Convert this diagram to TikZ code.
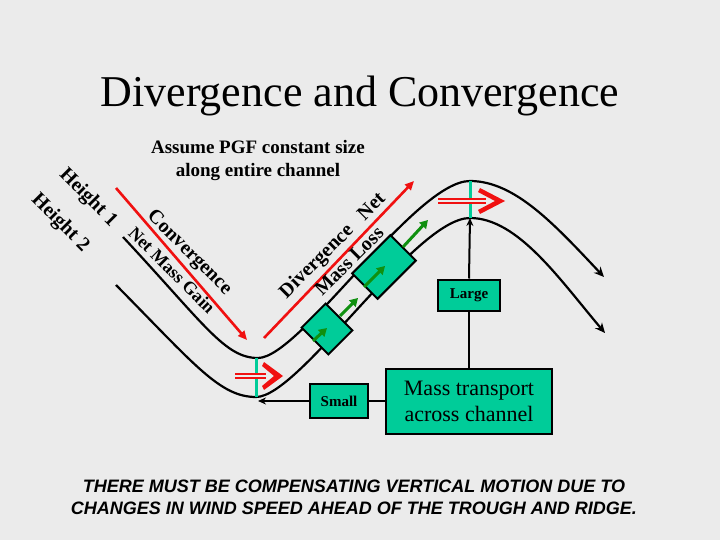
\documentclass[tikz,border=0pt]{standalone}
\usepackage{fontspec}
\setmainfont{Liberation Serif}
\newfontfamily\arialf{Liberation Sans}
\usetikzlibrary{arrows.meta}
\definecolor{bg}{HTML}{EBEBEB}
\definecolor{teal}{HTML}{00CC99}
\definecolor{rd}{HTML}{F01010}
\definecolor{gr}{HTML}{109010}
\begin{document}
\begin{tikzpicture}[x=1pt,y=-1pt,
  chan/.style={line width=2.2pt},
  redar/.style={rd,line width=2.6pt,-{Triangle[length=9pt,width=8pt]}},
  grar/.style={gr,line width=3pt,-{Triangle[length=8pt,width=9pt]}},
  box/.style={draw,line width=2pt,fill=teal},
  lbl/.style={font=\bfseries\fontsize{20}{20}\selectfont,inner sep=0pt},
  dbl/.style={rd,double=bg,double distance=2pt,line width=2.2pt}]
\useasboundingbox[fill=bg] (0,0) rectangle (720,540);
\node (title) at (360,96) {\fontsize{44}{44}\selectfont Divergence and Convergence};
\node[align=center,font=\bfseries\fontsize{19}{23}\selectfont] (sub) at (258,161) {Assume PGF constant size\\along entire channel};
% channel
\draw[chan,-{Stealth[length=10pt,width=9pt]}] (123,237) .. controls (205,325) and (225,358) .. (258,358)
  .. controls (300,358) and (415,181) .. (470,181) .. controls (515,181) and (555,225) .. (604,277);
\draw[chan,-{Stealth[length=10pt,width=9pt]}] (116,285) .. controls (195,365) and (220,397) .. (256,397)
  .. controls (300,397) and (415,218) .. (470,218) .. controls (518,218) and (560,280) .. (605,333);
% boxes on slope
\draw[box] (352.4,330.4) -- (325.6,303.6) -- (301.6,327.6) -- (328.4,354.4) -- cycle;
\draw[box] (415.8,260.6) -- (390.4,235.2) -- (352.2,273.4) -- (377.6,298.8) -- cycle;
\coordinate (g1a) at (313,341); \coordinate (g1b) at (327,328);
\coordinate (g2a) at (340,316); \coordinate (g2b) at (358,298);
\coordinate (g3a) at (364,287); \coordinate (g3b) at (385,266);
\coordinate (g4a) at (403,247); \coordinate (g4b) at (428,220);
\draw[grar] (g1a) -- (g1b); \draw[grar] (g2a) -- (g2b);
\draw[grar] (g3a) -- (g3b); \draw[grar] (g4a) -- (g4b);
% teal bars
\coordinate (t1) at (256,358); \coordinate (t2) at (256,397);
\coordinate (c1) at (470,181); \coordinate (c2) at (470,218);
\draw[teal,line width=3pt] (t1) -- (t2);
\draw[teal,line width=3pt] (c1) -- (c2);
% red double arrows
\coordinate (d1a) at (235,376); \coordinate (d1b) at (266,376);
\draw[dbl] (d1a) -- (d1b);
\fill[rd] (264,362) -- (283,376) -- (264,390) -- (262,386) -- (274,376) -- (262,366) -- cycle;
\coordinate (d2a) at (438,201); \coordinate (d2b) at (486,201);
\draw[dbl] (d2a) -- (d2b);
\fill[rd] (480,188) -- (505,201) -- (480,214) -- (478,210) -- (495,201) -- (478,192) -- cycle;
% red straight arrows
\coordinate (r1a) at (116,188); \coordinate (r1b) at (247,340);
\coordinate (r2a) at (264,338); \coordinate (r2b) at (414,181);
\draw[redar] (r1a) -- (r1b);
\draw[redar] (r2a) -- (r2b);
% labels
\node[lbl,rotate=-45] (h1) at (88,198) {Height 1};
\node[lbl,rotate=-45] (h2) at (60,223) {Height 2};
\node[lbl,rotate=-45] (conv) at (189,253) {Convergence};
\node[lbl,rotate=-45,font=\bfseries\fontsize{18}{18}\selectfont] (nmg) at (172,270) {Net Mass Gain};
\node[lbl,rotate=45] (div) at (317,262) {Divergence};
\node[lbl,rotate=45] (net) at (371,206) {Net};
\node[lbl,rotate=45] (ml) at (349,261) {Mass Loss};
% boxes
\node[box,font=\bfseries\fontsize{15}{15}\selectfont,minimum width=58pt,minimum height=34pt,inner sep=0pt] (small) at (339,401) {Small};
\node[box,font=\bfseries\fontsize{15}{15}\selectfont,minimum width=62pt,minimum height=31pt,inner sep=0pt] (large) at (469,295) {Large};
\node[box,align=center,font=\fontsize{22}{26}\selectfont,minimum width=166pt,minimum height=65pt,inner sep=0pt] (mass) at (469,401) {Mass transport\\across channel};
\coordinate (tr) at (258,401);
\draw[line width=2pt,-{Stealth[length=8pt,width=7pt]}] (small.west) -- (tr);
\draw[line width=2pt] (small.east) -- (mass.west);
\draw[line width=2pt] (mass.north) -- (large.south);
\draw[line width=2pt,-{Stealth[length=8pt,width=7pt]}] (large.north) -- (c2);
\node[align=center,font=\arialf\bfseries\itshape\fontsize{18}{22}\selectfont] (foot) at (354,497) {THERE MUST BE COMPENSATING VERTICAL MOTION DUE TO\\CHANGES IN WIND SPEED AHEAD OF THE TROUGH AND RIDGE.};
\end{tikzpicture}
\end{document}
